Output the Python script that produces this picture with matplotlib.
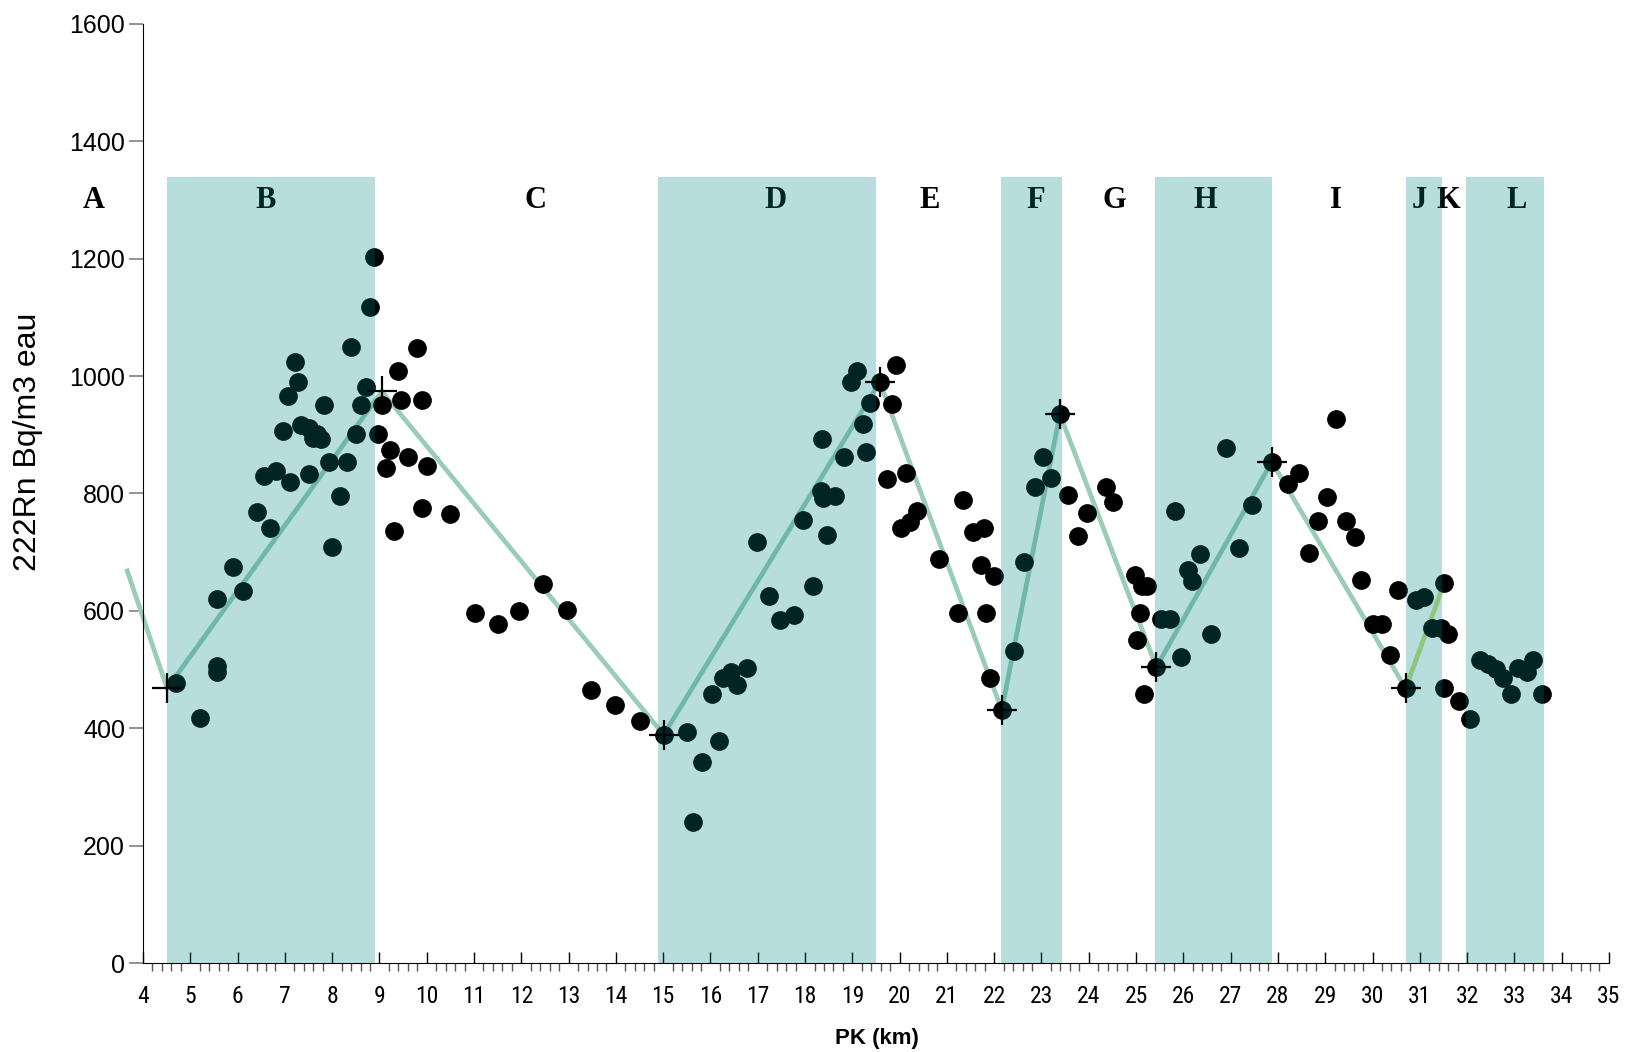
import matplotlib
matplotlib.use("Agg")
import matplotlib.pyplot as plt
import matplotlib.ticker as ticker
from matplotlib import font_manager

# radon measurements along the tunnel (PK km, Bq/m3)
pk = [4.70, 5.21, 5.56, 5.56, 5.56, 5.90, 6.11, 6.41, 6.56, 6.68, 6.82, 6.95, 7.06, 7.11,
      7.22, 7.27, 7.35, 7.50, 7.51, 7.59, 7.67, 7.77, 7.82, 7.93, 8.00, 8.16, 8.31, 8.40,
      8.50, 8.61, 8.71, 8.80, 8.89,
      8.97, 9.05, 9.13, 9.23, 9.30, 9.39, 9.45, 9.60, 9.80, 9.90, 9.90, 10.01, 10.50,
      11.01, 11.50, 11.96, 12.46, 12.97, 13.48, 13.99, 14.50,
      15.01, 15.51, 15.63, 15.83, 16.03, 16.17, 16.27, 16.43, 16.57, 16.78, 16.99, 17.24,
      17.47, 17.76, 17.95, 18.16, 18.33, 18.36, 18.38, 18.46, 18.63, 18.82, 18.97, 19.09,
      19.23, 19.28, 19.38, 19.58,
      19.73, 19.83, 19.93, 20.02, 20.13, 20.23, 20.37, 20.84, 21.23, 21.35, 21.55, 21.73,
      21.78, 21.83, 21.91, 21.99, 22.16,
      22.42, 22.64, 22.87, 23.03, 23.21, 23.39,
      23.56, 23.78, 23.96, 24.37, 24.51, 24.98, 25.02, 25.08, 25.12, 25.16, 25.24,
      25.43, 25.53, 25.71, 25.83, 25.96, 26.09, 26.19, 26.36, 26.58, 26.90, 27.18, 27.46, 27.87,
      28.22, 28.44, 28.65, 28.84, 29.04, 29.23, 29.44, 29.62, 29.75, 30.02, 30.21, 30.37,
      30.53, 30.70,
      30.93, 31.09, 31.26, 31.44, 31.52, 31.52, 31.60, 31.82, 32.06,
      32.27, 32.44, 32.62, 32.75, 32.93, 33.07, 33.26, 33.40, 33.59]
radon = [477, 417, 620, 506, 496, 675, 634, 769, 830, 742, 839, 907, 966, 820,
         1024, 990, 916, 912, 833, 894, 902, 893, 951, 854, 708, 795, 854, 1049,
         902, 951, 981, 1117, 1203,
         902, 951, 844, 874, 736, 1009, 960, 863, 1048, 960, 775, 847, 765,
         597, 578, 600, 646, 601, 466, 440, 413,
         389, 393, 241, 343, 458, 378, 486, 495, 474, 503, 717, 626,
         584, 593, 754, 643, 805, 893, 792, 730, 795, 862, 990, 1009,
         918, 871, 954, 990,
         825, 953, 1019, 742, 835, 751, 771, 688, 596, 789, 734, 679,
         742, 596, 485, 660, 431,
         532, 683, 811, 863, 826, 935,
         798, 728, 767, 811, 785, 661, 550, 596, 642, 458, 642,
         504, 586, 586, 771, 522, 670, 651, 697, 560, 877, 707, 780, 854,
         817, 835, 698, 753, 794, 927, 753, 726, 653, 578, 578, 524,
         635, 468,
         618, 623, 570, 570, 648, 468, 560, 446, 415,
         516, 509, 501, 486, 459, 503, 495, 517, 459]

# trend line through the zone extremes
trend_pk = [3.65, 4.51, 9.05, 15.01, 19.58, 22.16, 23.39, 25.43, 27.87, 30.70]
trend_rn = [672, 468, 974, 389, 990, 431, 935, 504, 854, 468]
cross_pk = trend_pk[1:]
cross_rn = trend_rn[1:]
j_pk = [30.70, 31.52]
j_rn = [468, 648]

# geological zones
band_start = [4.50, 14.88, 22.14, 25.41, 30.70, 31.97]
band_end = [8.91, 19.51, 23.44, 27.87, 31.47, 33.62]
zone_names = ['A', 'B', 'C', 'D', 'E', 'F', 'G', 'H', 'I', 'J', 'K', 'L']
zone_pos = [2.95, 6.59, 12.31, 17.38, 20.63, 22.87, 24.54, 26.47, 29.23, 30.99, 31.60, 33.05]

# narrow font for the x tick labels if one is around
names = {f.name for f in font_manager.fontManager.ttflist}
narrow = None
for n in ['Liberation Sans Narrow', 'Arial Narrow', 'Roboto Condensed', 'Open Sans Condensed']:
    if n in names:
        narrow = n
        break

fig = plt.figure(figsize=(16.27, 10.52), dpi=100)
ax = fig.add_axes([0.0879, 0.0846, 0.901, 0.8926])

ax.plot(trend_pk, trend_rn, color='#9acdb6', lw=3.4, zorder=2, clip_on=False,
        solid_capstyle='butt')
ax.plot(j_pk, j_rn, color='#c6e07c', lw=3.4, zorder=2, solid_capstyle='butt')
ax.plot(pk, radon, 'o', color='black', markersize=13.5, markeredgewidth=0, zorder=3)

for i, name in enumerate(zone_names):
    ax.text(zone_pos[i], 1300, name, ha='center', va='center', fontsize=22,
            fontweight='bold', family='Liberation Serif', zorder=3.5, clip_on=False)

for s, e in zip(band_start, band_end):
    ax.fill_between([s, e], 0, 1340, color='#008585', alpha=0.278, lw=0, zorder=4)

ax.plot(cross_pk, cross_rn, '+', color='black', markersize=22, markeredgewidth=1.6,
        zorder=5, clip_on=False)

ax.set_xlim(4, 35)
ax.set_ylim(0, 1600)
ax.xaxis.set_major_locator(ticker.MultipleLocator(1))
ax.xaxis.set_minor_locator(ticker.MultipleLocator(0.2))
ax.yaxis.set_major_locator(ticker.MultipleLocator(200))

for side in ['top', 'right']:
    ax.spines[side].set_visible(False)

ax.tick_params(axis='x', which='major', direction='in', length=8, width=1, pad=16)
ax.tick_params(axis='x', which='minor', direction='out', length=6, width=1,
               color='#555555')
ax.tick_params(axis='y', which='major', direction='out', length=10, width=1.2,
               color='#808080', labelsize=18, pad=3)
for lab in ax.get_yticklabels():
    lab.set_family('Liberation Sans')
for lab in ax.get_xticklabels():
    if narrow:
        lab.set_family(narrow)
        lab.set_fontsize(17)
    else:
        lab.set_family('Liberation Sans')
        lab.set_fontsize(16)

fig.text(0.0172, 0.580, '222Rn Bq/m3 eau', rotation=90, ha='center', va='center',
         fontsize=23, family='Liberation Sans')
fig.text(0.539, 0.0133, 'PK (km)', ha='center', va='center', fontsize=16,
         fontweight='bold', family='Liberation Sans')

fig.savefig('out.png', dpi=100)
